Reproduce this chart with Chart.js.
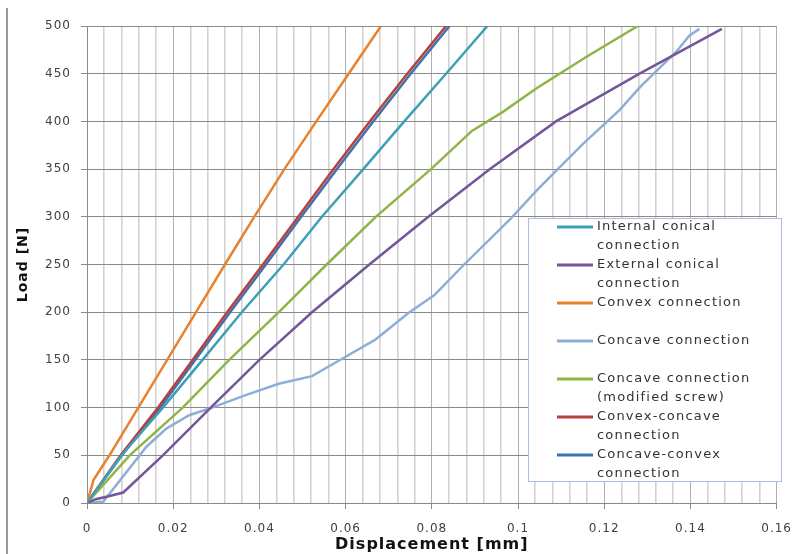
<!DOCTYPE html>
<html>
<head>
<meta charset="utf-8">
<script src="https://cdn.jsdelivr.net/npm/chart.js@4/dist/chart.umd.min.js"></script>
<style>
  html, body { margin: 0; padding: 0; background: #fff; }
  #wrap { width: 803px; height: 554px; }
</style>
</head>
<body>
<div id="wrap"><canvas id="loadChart" width="803" height="554"></canvas></div>
<script>
// Datos (desplazamiento en mm, carga en N)
const internalDisp = [0, 0.008, 0.0176, 0.0268, 0.0359, 0.0456, 0.0545, 0.0641, 0.0736, 0.0833, 0.0929];
const internalLoad = [0, 50, 100, 150, 200, 250, 300, 350, 400, 450, 500];

const externalDisp = [0, 0.002, 0.005, 0.0084, 0.0176, 0.0287, 0.04, 0.0522, 0.0655, 0.0792, 0.0935, 0.1088, 0.1282, 0.1473];
const externalLoad = [0, 4, 7, 11, 50, 100, 150, 200, 250, 300, 350, 400, 450, 497];

const convexDisp = [0, 0.0015, 0.0052, 0.0119, 0.0186, 0.0253, 0.032, 0.0388, 0.0458, 0.0532, 0.0607, 0.0682];
const convexLoad = [0, 24, 50, 100, 150, 200, 250, 300, 350, 400, 450, 500];

const concaveDisp = [0, 0.0038, 0.0084, 0.0138, 0.0184, 0.0237, 0.0284, 0.0368, 0.0445, 0.0522, 0.0599, 0.0668, 0.0745, 0.0806, 0.0875, 0.0983, 0.1044, 0.109, 0.1152, 0.1236, 0.1283, 0.1367, 0.1398, 0.1421];
const concaveLoad = [0, 1.5, 28, 59, 78, 92, 99, 113, 125, 133, 153, 171, 199, 218, 250, 298, 328, 349, 377, 412, 436, 473, 490, 497];

const concaveModDisp = [0, 0.0099, 0.0222, 0.033, 0.0445, 0.0556, 0.067, 0.0798, 0.0893, 0.0965, 0.1044, 0.116, 0.1278];
const concaveModLoad = [0, 50, 100, 150, 200, 250, 300, 350, 390, 410, 435, 468, 500];

const convexConcaveDisp = [0, 0.0078, 0.0165, 0.0245, 0.0325, 0.0408, 0.049, 0.0572, 0.0656, 0.0743, 0.0833];
const convexConcaveLoad = [0, 50, 100, 150, 200, 250, 300, 350, 400, 450, 500];

const concaveConvexDisp = [0, 0.0081, 0.017, 0.0251, 0.0332, 0.0415, 0.0497, 0.058, 0.0664, 0.0751, 0.0841];
const concaveConvexLoad = [0, 50, 100, 150, 200, 250, 300, 350, 400, 450, 500];

const seriesNames = [
    ['Internal conical', 'connection'],
    ['External conical', 'connection'],
    ['Convex connection'],
    ['Concave connection'],
    ['Concave connection', '(modified screw)'],
    ['Convex-concave', 'connection'],
    ['Concave-convex', 'connection']
];
const seriesColors = ['#3d9fb8', '#74569a', '#e8822e', '#8eaed8', '#8fb448', '#b5423f', '#3f72b0'];
const seriesDisp = [internalDisp, externalDisp, convexDisp, concaveDisp, concaveModDisp, convexConcaveDisp, concaveConvexDisp];
const seriesLoad = [internalLoad, externalLoad, convexLoad, concaveLoad, concaveModLoad, convexConcaveLoad, concaveConvexLoad];

const FONT = '"DejaVu Sans", Verdana, sans-serif';

function puntos(xs, ys) {
    return xs.map((x, i) => ({ x: x, y: ys[i] }));
}

// Leyenda tipo Excel con recuadro
const leyendaPlugin = {
    id: 'leyendaExcel',
    afterDraw(chart) {
        const ctx = chart.ctx;
        const box = { left: 528, top: 218, right: 781, bottom: 481 };
        ctx.save();
        ctx.fillStyle = '#ffffff';
        ctx.fillRect(box.left, box.top, box.right - box.left, box.bottom - box.top);
        ctx.strokeStyle = '#a9bfdc';
        ctx.lineWidth = 1;
        ctx.strokeRect(box.left + 0.5, box.top + 0.5, box.right - box.left, box.bottom - box.top);
        ctx.font = '13px ' + FONT;
        ctx.letterSpacing = '1.2px';
        ctx.textBaseline = 'middle';
        ctx.fillStyle = '#333333';
        chart.data.datasets.forEach((ds, i) => {
            const y = 227 + i * 38;
            ctx.strokeStyle = ds.borderColor;
            ctx.lineWidth = 3;
            ctx.beginPath();
            ctx.moveTo(557, y);
            ctx.lineTo(593, y);
            ctx.stroke();
            seriesNames[i].forEach((linea, j) => {
                ctx.fillText(linea, 597, y + j * 19);
            });
        });
        ctx.restore();
    }
};

// Borde izquierdo y espaciado de letras (la imagen original está algo estirada)
const bordePlugin = {
    id: 'bordeIzq',
    beforeDraw(chart) {
        const ctx = chart.ctx;
        ctx.letterSpacing = '1px';
        ctx.save();
        ctx.strokeStyle = '#9a9a9a';
        ctx.lineWidth = 2;
        ctx.beginPath();
        ctx.moveTo(7, 8);
        ctx.lineTo(7, 554);
        ctx.stroke();
        ctx.restore();
    }
};

document.addEventListener('DOMContentLoaded', () => {
    const ctx = document.getElementById('loadChart').getContext('2d');
    new Chart(ctx, {
        type: 'scatter',
        data: {
            datasets: seriesNames.map((nombre, i) => ({
                label: nombre.join(' '),
                data: puntos(seriesDisp[i], seriesLoad[i]),
                showLine: true,
                borderColor: seriesColors[i],
                backgroundColor: seriesColors[i],
                borderWidth: 2.5,
                pointRadius: 0,
                tension: 0
            }))
        },
        options: {
            responsive: false,
            animation: false,
            devicePixelRatio: 1,
            layout: { padding: { left: 0, right: 22, top: 26, bottom: 0 } },
            plugins: {
                legend: { display: false },
                tooltip: { enabled: false }
            },
            scales: {
                x: {
                    type: 'linear',
                    min: 0,
                    max: 0.16,
                    afterFit: (scale) => { scale.height = 51; },
                    ticks: {
                        stepSize: 0.004,
                        maxTicksLimit: 100,
                        autoSkip: false,
                        maxRotation: 0,
                        padding: 13,
                        color: '#404040',
                        font: { family: FONT, size: 12 },
                        callback: (value, index) => index % 5 === 0 ? String(parseFloat(value.toFixed(2))) : ''
                    },
                    grid: {
                        color: (c) => c.index % 5 === 0 ? '#b0b0b0' : '#d2d2d2',
                        lineWidth: (c) => c.index % 5 === 0 ? 1 : 1.6,
                        tickColor: (c) => c.index % 5 === 0 ? '#8a8a8a' : 'rgba(0,0,0,0)',
                        tickLength: 6
                    },
                    border: { color: '#8a8a8a' },
                    title: {
                        display: true,
                        text: 'Displacement [mm]',
                        color: '#111111',
                        font: { family: FONT, size: 16, weight: 'bold' },
                        padding: { top: 0, bottom: 0 }
                    }
                },
                y: {
                    min: 0,
                    max: 500,
                    afterFit: (scale) => { scale.width = 87; },
                    ticks: {
                        stepSize: 50,
                        padding: 10,
                        color: '#404040',
                        font: { family: FONT, size: 12 }
                    },
                    grid: {
                        color: '#8a8a8a',
                        lineWidth: 1,
                        tickLength: 6
                    },
                    border: { color: '#8a8a8a' },
                    title: {
                        display: true,
                        text: 'Load [N]',
                        color: '#111111',
                        font: { family: FONT, size: 14, weight: 'bold' },
                        padding: { top: 15, bottom: 0 }
                    }
                }
            }
        },
        plugins: [bordePlugin, leyendaPlugin]
    });
});
</script>
</body>
</html>
